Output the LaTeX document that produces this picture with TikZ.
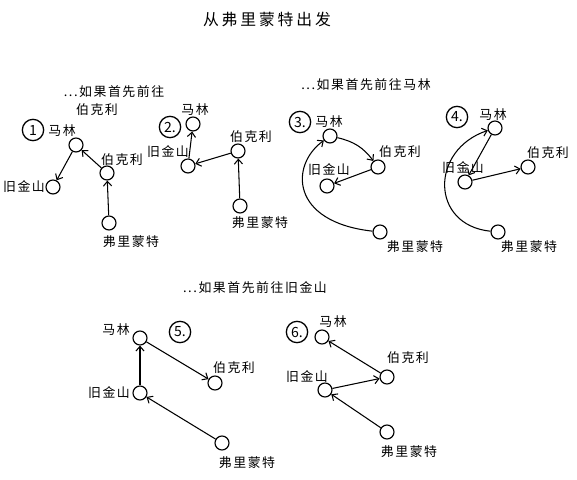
\documentclass[tikz,border=0pt]{standalone}
\usepackage{fontspec}
\setmainfont{Noto Sans CJK SC}
\newfontfamily\handfont[LetterSpace=12]{Noto Sans CJK SC}
\newfontfamily\titlefont[LetterSpace=18]{Noto Sans CJK SC}
\usetikzlibrary{arrows.meta}

\tikzset{
	town/.style={circle, draw, line width=1pt, minimum size=0.42cm, inner sep=0pt},
	badge/.style={circle, draw, line width=1.1pt, minimum size=0.64cm, inner sep=0pt, font=\fontsize{12}{14}\selectfont},
	place/.style={inner sep=0pt, font=\handfont\fontsize{11}{14}\selectfont},
	road/.style={line width=0.9pt, -{Straight Barb[length=4pt,width=7pt]}}
}

\begin{document}
\begin{tikzpicture}[x=0.03cm, y=-0.03cm]

	\useasboundingbox (0,0) rectangle (577,480);
	\node[place, font=\titlefont\fontsize{13.5}{16}\selectfont] (title) at (267,19) {从弗里蒙特出发};

	% first to Berkeley
	\node[place] (cap1a) at (114,92) {...如果首先前往};
	\node[place] (cap1b) at (97,110) {伯克利};
	\node[badge] (n1) at (33,130) {1};
	\node[town] (m1) at (76,145) {};
	\node[town] (b1) at (107,173) {};
	\node[town] (s1) at (53,187) {};
	\node[town] (f1) at (109,223) {};
	\node[place] (m1t) at (62,131) {马林};
	\node[place] (b1t) at (122,160) {伯克利};
	\node[place] (s1t) at (24,187) {旧金山};
	\node[place] (f1t) at (131,242) {弗里蒙特};
	\draw[road] (f1) -- (b1);
	\draw[road] (b1) -- (m1);
	\draw[road] (m1) -- (s1);

	\node[badge] (n2) at (170,127) {2.};
	\node[town] (m2) at (193,124) {};
	\node[town] (b2) at (238,151) {};
	\node[town] (s2) at (188,166) {};
	\node[town] (f2) at (240,206) {};
	\node[place] (m2t) at (195,110) {马林};
	\node[place] (b2t) at (251,137) {伯克利};
	\node[place] (s2t) at (168,152) {旧金山};
	\node[place] (f2t) at (260,223) {弗里蒙特};
	\draw[road] (f2) -- (b2);
	\draw[road] (b2) -- (s2);
	\draw[road] (s2) -- (m2);

	% first to Marin
	\node[place] (cap3) at (366,85) {...如果首先前往马林};
	\node[badge] (n3) at (300,122) {3.};
	\node[town] (m3) at (330,136) {};
	\node[town] (b3) at (378,167) {};
	\node[town] (s3) at (327,186) {};
	\node[town] (f3) at (380,232) {};
	\node[place] (m3t) at (329,122) {马林};
	\node[place] (b3t) at (400,152) {伯克利};
	\node[place] (s3t) at (329,170) {旧金山};
	\node[place] (f3t) at (415,247) {弗里蒙特};
	\draw[road] (f3) .. controls (290,222) and (290,165) .. (m3);
	\draw[road] (m3) to[bend left=20] (b3);
	\draw[road] (b3) -- (s3);

	\node[badge] (n4) at (457,117) {4.};
	\node[town] (m4) at (495,128) {};
	\node[town] (b4) at (528,167) {};
	\node[town] (s4) at (465,182) {};
	\node[town] (f4) at (498,232) {};
	\node[place] (m4t) at (493,115) {马林};
	\node[place] (b4t) at (548,153) {伯克利};
	\node[place] (s4t) at (463,168) {旧金山};
	\node[place] (f4t) at (529,247) {弗里蒙特};
	\draw[road] (f4) .. controls (430,225) and (430,150) .. (m4);
	\draw[road] (m4) -- (s4);
	\draw[road] (s4) -- (b4);

	% first to San Francisco
	\node[place] (cap5) at (255,288) {...如果首先前往旧金山};
	\node[badge] (n5) at (180,332) {5.};
	\node[town] (m5) at (140,338) {};
	\node[town] (b5) at (215,383) {};
	\node[town] (s5) at (140,393) {};
	\node[town] (f5) at (222,443) {};
	\node[place] (m5t) at (116,330) {马林};
	\node[place] (b5t) at (234,368) {伯克利};
	\node[place] (s5t) at (109,393) {旧金山};
	\node[place] (f5t) at (247,463) {弗里蒙特};
	\draw[road] (f5) -- (s5);
	\draw[road] (s5) -- (m5);
	\draw[road] (m5) -- (b5);

	\node[badge] (n6) at (297,332) {6.};
	\node[town] (m6) at (322,337) {};
	\node[town] (b6) at (387,377) {};
	\node[town] (s6) at (325,390) {};
	\node[town] (f6) at (387,432) {};
	\node[place] (m6t) at (333,322) {马林};
	\node[place] (b6t) at (408,358) {伯克利};
	\node[place] (s6t) at (307,377) {旧金山};
	\node[place] (f6t) at (409,452) {弗里蒙特};
	\draw[road] (f6) -- (s6);
	\draw[road] (s6) -- (b6);
	\draw[road] (b6) -- (m6);

\end{tikzpicture}
\end{document}
